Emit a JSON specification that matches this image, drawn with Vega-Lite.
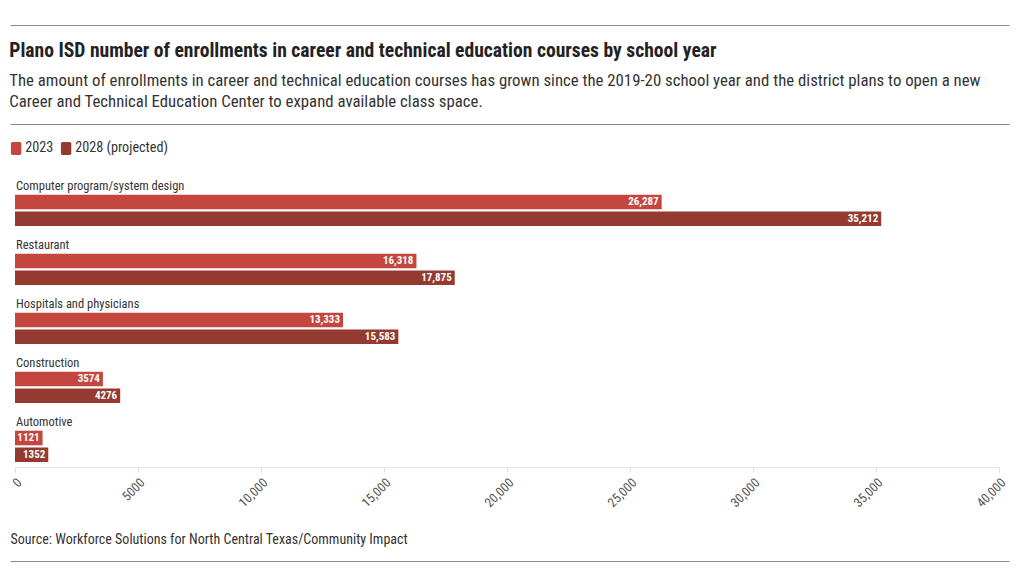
{
  "$schema": "https://vega.github.io/schema/vega-lite/v6.json",
  "width": 984,
  "height": 294,
  "autosize": {"type": "none"},
  "padding": {"left": 15, "top": 173, "right": 21, "bottom": 119},
  "background": "white",
  "config": {
    "font": "Roboto Condensed, Liberation Sans Narrow, Roboto",
    "view": {"stroke": null}
  },
  "title": {
    "text": "Plano ISD number of enrollments in career and technical education courses by school year",
    "subtitle": ["The amount of enrollments in career and technical education courses has grown since the 2019-20 school year and the district plans to open a new", "Career and Technical Education Center to expand available class space."],
    "anchor": "start",
    "frame": "bounds",
    "offset": -87,
    "dx": 2,
    "fontSize": 19.6,
    "fontWeight": "bold",
    "color": "#222222",
    "subtitleFontSize": 16.8,
    "subtitleColor": "#333333",
    "subtitlePadding": 12,
    "subtitleLineHeight": 21
  },
  "layer": [
    {
      "data": {
        "values": [
          {"category": "Computer program/system design", "year": "2023", "value": 26287},
          {"category": "Computer program/system design", "year": "2028 (projected)", "value": 35212},
          {"category": "Restaurant", "year": "2023", "value": 16318},
          {"category": "Restaurant", "year": "2028 (projected)", "value": 17875},
          {"category": "Hospitals and physicians", "year": "2023", "value": 13333},
          {"category": "Hospitals and physicians", "year": "2028 (projected)", "value": 15583},
          {"category": "Construction", "year": "2023", "value": 3574},
          {"category": "Construction", "year": "2028 (projected)", "value": 4276},
          {"category": "Automotive", "year": "2023", "value": 1121},
          {"category": "Automotive", "year": "2028 (projected)", "value": 1352}
        ]
      },
      "encoding": {
        "y": {
          "field": "category",
          "type": "nominal",
          "sort": null,
          "axis": null,
          "scale": {"paddingInner": 0.1864, "paddingOuter": 0.0847}
        }
      },
      "layer": [
        {
          "mark": {"type": "bar"},
          "encoding": {
            "x": {
              "field": "value",
              "type": "quantitative",
              "scale": {"domain": [0, 40000], "nice": false},
              "axis": {
                "orient": "bottom",
                "values": [0, 5000, 10000, 15000, 20000, 25000, 30000, 35000, 40000],
                "labelExpr": "datum.value >= 10000 ? format(datum.value, ',') : format(datum.value, 'd')",
                "labelAngle": -45,
                "labelAlign": "right",
                "labelBaseline": "top",
                "labelFontSize": 13,
                "labelColor": "#555555",
                "labelPadding": 4,
                "domainColor": "#e6e6e6",
                "tickColor": "#dddddd",
                "tickSize": 5,
                "grid": false,
                "title": "Source: Workforce Solutions for North Central Texas/Community Impact",
                "titleFontSize": 14,
                "titleFontWeight": "normal",
                "titleColor": "#333333",
                "titleAnchor": "start",
                "titleAlign": "left",
                "titleBaseline": "middle",
                "titleX": -5,
                "titleY": 72
              }
            },
            "yOffset": {
              "field": "year",
              "type": "nominal",
              "scale": {"domain": ["label", "2023", "2028 (projected)"], "paddingInner": 0.125, "paddingOuter": 0}
            },
            "color": {
              "field": "year",
              "type": "nominal",
              "scale": {"domain": ["2023", "2028 (projected)"], "range": ["#c4463e", "#943a30"]},
              "legend": {
                "orient": "none",
                "legendX": -6,
                "legendY": -32,
                "direction": "horizontal",
                "title": null,
                "symbolType": "M-0.55,-1 H0.55 Q0.8,-1 0.8,-0.75 V0.75 Q0.8,1 0.55,1 H-0.55 Q-0.8,1 -0.8,0.75 V-0.75 Q-0.8,-1 -0.55,-1 Z",
                "symbolSize": 169,
                "symbolStrokeWidth": 0,
                "labelFontSize": 14.2,
                "labelColor": "#333333",
                "labelOffset": 2,
                "columnPadding": 5
              }
            }
          }
        },
        {
          "mark": {"type": "text", "align": "right", "baseline": "middle", "dx": -3, "fontSize": 11, "fontWeight": "bold", "color": "white"},
          "transform": [
            {"calculate": "datum.value >= 10000 ? format(datum.value, ',') : format(datum.value, 'd')", "as": "label"}
          ],
          "encoding": {
            "x": {"field": "value", "type": "quantitative"},
            "yOffset": {"field": "year", "type": "nominal"},
            "text": {"field": "label", "type": "nominal"}
          }
        },
        {
          "mark": {"type": "text", "align": "left", "baseline": "middle", "dx": 1, "dy": 1, "fontSize": 12.5, "color": "#333333"},
          "transform": [{"filter": "datum.year === '2023'"}],
          "encoding": {
            "x": {"datum": 0, "type": "quantitative"},
            "yOffset": {"datum": "label"},
            "text": {"field": "category", "type": "nominal"}
          }
        }
      ]
    },
    {
      "data": {"values": [{"v": 0}]},
      "mark": {"type": "point", "opacity": 0},
      "encoding": {
        "x": {
          "field": "v",
          "type": "quantitative",
          "scale": {"domain": [0, 1], "range": [-5, 994], "nice": false, "zero": false},
          "axis": {"orient": "top", "offset": 148, "domain": true, "domainColor": "#888888", "ticks": false, "labels": false, "grid": false, "title": null}
        }
      }
    },
    {
      "data": {"values": [{"v": 0}]},
      "mark": {"type": "point", "opacity": 0},
      "encoding": {
        "x": {
          "field": "v",
          "type": "quantitative",
          "scale": {"domain": [0, 1], "range": [-5, 994], "nice": false, "zero": false},
          "axis": {"orient": "top", "offset": 49, "domain": true, "domainColor": "#888888", "ticks": false, "labels": false, "grid": false, "title": null}
        }
      }
    },
    {
      "data": {"values": [{"v": 0}]},
      "mark": {"type": "point", "opacity": 0},
      "encoding": {
        "x": {
          "field": "v",
          "type": "quantitative",
          "scale": {"domain": [0, 1], "range": [-5, 994], "nice": false, "zero": false},
          "axis": {"orient": "bottom", "offset": 94, "domain": true, "domainColor": "#888888", "ticks": false, "labels": false, "grid": false, "title": null}
        }
      }
    }
  ],
  "resolve": {"scale": {"x": "independent"}, "axis": {"x": "independent"}}
}
